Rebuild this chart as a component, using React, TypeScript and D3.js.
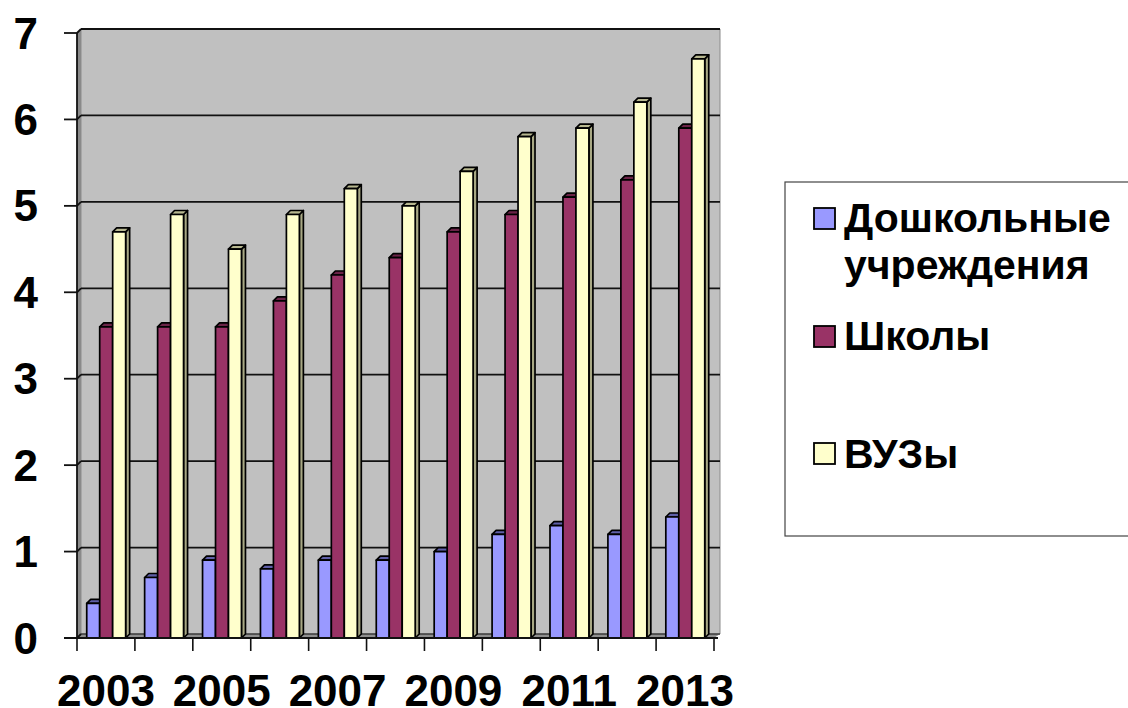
import React from "react";
import * as d3 from "d3";

const years = [2003, 2004, 2005, 2006, 2007, 2008, 2009, 2010, 2011, 2012, 2013];
const yearLabels = [2003, 2005, 2007, 2009, 2011, 2013];
const yTicks = [0, 1, 2, 3, 4, 5, 6, 7];
const preschool = [0.4, 0.7, 0.9, 0.8, 0.9, 0.9, 1.0, 1.2, 1.3, 1.2, 1.4];
const schools = [3.6, 3.6, 3.6, 3.9, 4.2, 4.4, 4.7, 4.9, 5.1, 5.3, 5.9];
const universities = [4.7, 4.9, 4.5, 4.9, 5.2, 5.0, 5.4, 5.8, 5.9, 6.2, 6.7];

const seriesList = [
  { values: preschool, front: "#9999ff", top: "#5f5fa8", side: "#6f6fb8" },
  { values: schools, front: "#993366", top: "#6b2347", side: "#6b2347" },
  { values: universities, front: "#ffffcc", top: "#b8b890", side: "#a8a884" },
];

const legendItems = [
  { lines: ["Дошкольные", "учреждения"], fill: "#9999ff", boxY: 208, baselines: [232, 279] },
  { lines: ["Школы"], fill: "#993366", boxY: 326, baselines: [350] },
  { lines: ["ВУЗы"], fill: "#ffffcc", boxY: 443, baselines: [468] },
];

const left = 77;
const right = 714;
const baseY = 638;
const topY = 33;
const depth = 4;
const wallRight = 720;
const font = "'Liberation Sans', Arial, sans-serif";

const x = d3.scaleBand<number>().domain(years).range([left, right]).paddingInner(0).paddingOuter(0);
const y = d3.scaleLinear().domain([0, 7]).range([baseY, topY]);

function pts(list: [number, number][]) {
  return list.map((p) => p.join(",")).join(" ");
}

export default function App() {
  const step = x.step();
  const barWidth = step * 0.224;
  const groupInset = step * 0.168;

  return (
    <svg
      width={1128}
      height={708}
      style={{ position: "absolute", left: 0, top: 0, background: "#fff" }}
      fontFamily={font}
    >
      {/* back wall, side wall and floor */}
      <polygon
        points={pts([[left + depth, topY - depth], [wallRight, topY - depth], [wallRight, baseY - depth], [left + depth, baseY - depth]])}
        fill="#c0c0c0"
        stroke="#8c8c8c"
        strokeWidth={1}
      />
      <polygon
        points={pts([[left, topY], [left + depth, topY - depth], [left + depth, baseY - depth], [left, baseY]])}
        fill="#8a8a8a"
      />
      <polygon
        points={pts([[left, baseY], [left + depth, baseY - depth], [wallRight, baseY - depth], [right, baseY]])}
        fill="#8f8f8f"
      />

      {/* gridlines on the wall */}
      {yTicks.map((t) => (
        <g key={t} stroke="#111" strokeWidth={1.8}>
          <line x1={left + depth} x2={wallRight} y1={y(t) - depth} y2={y(t) - depth} opacity={t === 0 ? 0.5 : 1} />
          <line x1={left} x2={left + depth} y1={y(t)} y2={y(t) - depth} />
          <line x1={left - 13} x2={left} y1={y(t)} y2={y(t)} />
        </g>
      ))}

      {/* bars */}
      {years.map((yr, i) =>
        seriesList.map((s, j) => {
          const x0 = (x(yr) as number) + groupInset + j * barWidth;
          const x1 = x0 + barWidth;
          const yTop = y(s.values[i]);
          return (
            <g key={`${yr}-${j}`} stroke="#000" strokeWidth={1.7} strokeLinejoin="round">
              <polygon points={pts([[x1, yTop], [x1 + depth, yTop - depth], [x1 + depth, baseY - depth], [x1, baseY]])} fill={s.side} />
              <polygon points={pts([[x0, yTop], [x0 + depth, yTop - depth], [x1 + depth, yTop - depth], [x1, yTop]])} fill={s.top} />
              <rect x={x0} y={yTop} width={barWidth} height={baseY - yTop} fill={s.front} />
            </g>
          );
        })
      )}

      {/* axes */}
      <line x1={left} x2={left} y1={topY} y2={baseY} stroke="#111" strokeWidth={1.8} />
      <line x1={left - 13} x2={right + depth} y1={baseY} y2={baseY} stroke="#111" strokeWidth={1.8} />
      {years.concat([years[years.length - 1] + 1]).map((yr, i) => (
        <line key={yr} x1={left + i * step} x2={left + i * step} y1={baseY} y2={baseY + 13} stroke="#111" strokeWidth={1.6} />
      ))}

      {/* axis labels */}
      {yTicks.map((t) => (
        <text key={t} x={38} y={y(t) + 15.5} textAnchor="end" fontSize={44} fontWeight={700} fill="#000">
          {t}
        </text>
      ))}
      {yearLabels.map((yr) => (
        <text key={yr} x={(x(yr) as number) + step / 2} y={706} textAnchor="middle" fontSize={44} fontWeight={700} fill="#000">
          {yr}
        </text>
      ))}

      {/* legend */}
      <rect x={785} y={182} width={360} height={354} fill="#fff" stroke="#444" strokeWidth={1.2} />
      {legendItems.map((item) => (
        <g key={item.lines[0]}>
          <rect x={814} y={item.boxY} width={21} height={21} fill={item.fill} stroke="#000" strokeWidth={1.8} />
          {item.lines.map((line, k) => (
            <text key={line} x={844} y={item.baselines[k]} fontSize={41} fontWeight={700} fill="#000">
              {line}
            </text>
          ))}
        </g>
      ))}
    </svg>
  );
}
